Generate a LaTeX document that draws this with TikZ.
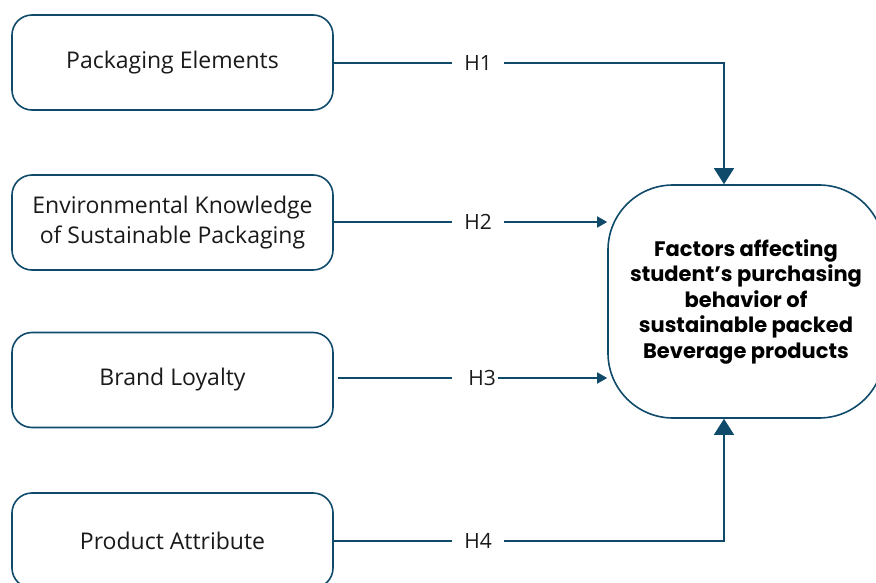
\documentclass[tikz,border=0pt]{standalone}
\usepackage{fontspec}
\setmainfont{Open Sans}
\newfontfamily\boldfam{Poppins}[UprightFont=* Bold]
\usetikzlibrary{arrows.meta}
\definecolor{navy}{HTML}{0F4A6B}
\definecolor{ink}{HTML}{1A1A1A}
\tikzset{
  box/.style={draw=navy, line width=1.6pt, rounded corners=20pt, fill=white,
    minimum width=321pt, minimum height=95pt, align=center, text=ink,
    font=\fontsize{23}{30}\selectfont, inner sep=0pt},
  target/.style={draw=navy, line width=1.6pt, rounded corners=65pt, fill=white,
    minimum width=276pt, minimum height=233pt, align=center, text=black,
    font=\boldfam\fontsize{21}{25.5}\selectfont, inner sep=0pt},
  hlab/.style={text=ink, font=\fontsize{21}{22}\selectfont, inner xsep=12pt, inner ysep=0pt},
  conn/.style={draw=navy, line width=1.3pt},
  bigtip/.style={-{Triangle[width=20pt,length=16pt]}},
  smalltip/.style={-{Triangle[width=11pt,length=10pt]}}
}
\begin{document}
\begin{tikzpicture}[x=1pt,y=-1pt]
\useasboundingbox (0,0) rectangle (876,583);
\begin{scope}
\clip (0,0) rectangle (876,583);
\node[box] (b1) at (172.5,62.5) {Packaging Elements};
\node[box] (b2) at (172.5,222.5) {Environmental Knowledge\\of Sustainable Packaging};
\node[box] (b3) at (172.5,380) {Brand Loyalty};
\node[box] (b4) at (172.5,540.5) {Product Attribute};
\node[target] (t) at (746,301.5) {Factors affecting\\student’s purchasing\\behavior of\\sustainable packed\\Beverage products};

\node[hlab] (h1) at (478,63) {H1};
\node[hlab] (h2) at (478,222) {H2};
\node[hlab, inner xsep=2pt] (h3) at (482,378) {H3};
\node[hlab] (h4) at (478,541) {H4};

\coordinate (c1) at (724,63);
\coordinate (c4) at (724,541);

\draw[conn] (b1.east |- h1) -- (h1.west);
\draw[conn, bigtip] (h1.east) -- (c1) -- (c1 |- t.north);

\draw[conn] (b2.east |- h2) -- (h2.west);
\draw[conn, smalltip] (h2.east) -- (h2 -| t.west);

\draw[conn] ([xshift=4pt]b3.east |- h3) -- ([xshift=-14pt]h3.west);
\draw[conn, smalltip] (h3.east) -- (h3 -| t.west);

\draw[conn] (b4.east |- h4) -- (h4.west);
\draw[conn, bigtip] (h4.east) -- (c4) -- (c4 |- t.south);
\end{scope}
\end{tikzpicture}
\end{document}
